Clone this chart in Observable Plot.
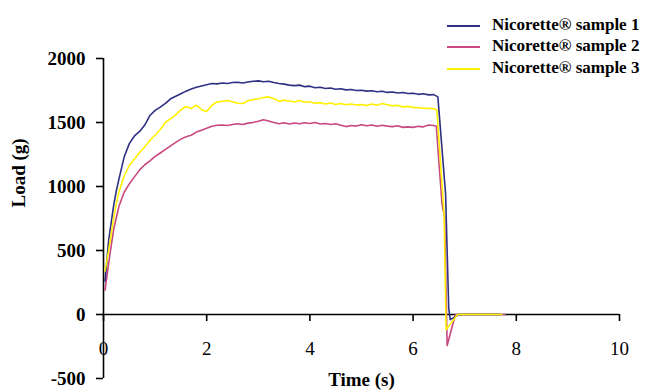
<!DOCTYPE html>
<html>
<head>
<meta charset="utf-8">
<script src="https://cdn.jsdelivr.net/npm/d3@7"></script>
<script src="https://cdn.jsdelivr.net/npm/@observablehq/plot@0.6"></script>
<style>
  html, body { margin: 0; padding: 0; background: #fff; }
  #wrap { position: relative; width: 653px; height: 391px; font-family: "Liberation Serif", "Times New Roman", serif; }
  #legend { position: absolute; left: 447px; top: 13.5px; font-size: 17px; font-weight: bold; line-height: 21.5px; color: #000; white-space: nowrap; }
  #legend .sw { display: inline-block; width: 33px; height: 2px; vertical-align: middle; margin-right: 12px; }
</style>
</head>
<body>
<div id="wrap"><div id="legend"></div></div>
<script>
const seriesNames = ["Nicorette® sample 1", "Nicorette® sample 2", "Nicorette® sample 3"];
const seriesColors = ["#2f3083", "#c8487f", "#fff000"];

const time = [0.03,0.1,0.15,0.2,0.25,0.3,0.4,0.5,0.6,0.7,0.8,0.9,
  1.0,1.1,1.2,1.3,1.4,1.5,1.6,1.7,1.8,1.9,
  2.0,2.1,2.2,2.3,2.4,2.5,2.6,2.7,2.8,2.9,
  3.0,3.1,3.2,3.3,3.4,3.5,3.6,3.7,3.8,3.9,
  4.0,4.1,4.2,4.3,4.4,4.5,4.6,4.7,4.8,4.9,
  5.0,5.1,5.2,5.3,5.4,5.5,5.6,5.7,5.8,5.9,
  6.0,6.1,6.2,6.3,6.4];

const sample1 = [260,580,720,860,970,1060,1230,1335,1395,1430,1480,1555,
  1595,1620,1650,1685,1705,1725,1745,1762,1775,1785,
  1795,1805,1802,1808,1805,1812,1815,1808,1816,1822,
  1825,1818,1822,1812,1805,1800,1792,1788,1792,1780,
  1784,1772,1775,1765,1770,1760,1764,1755,1758,1750,
  1752,1745,1748,1740,1744,1735,1738,1730,1734,1726,
  1728,1720,1724,1716,1718];

const sample2 = [190,400,540,670,760,845,955,1020,1075,1130,1170,1200,
  1235,1262,1290,1318,1345,1370,1388,1400,1425,1440,
  1455,1470,1478,1480,1476,1485,1490,1484,1495,1500,
  1510,1522,1512,1500,1490,1498,1488,1496,1490,1498,
  1492,1500,1488,1492,1485,1490,1478,1468,1476,1472,
  1482,1474,1480,1470,1478,1472,1468,1474,1462,1466,
  1462,1470,1466,1480,1476];

const sample3 = [340,500,630,760,870,960,1080,1165,1215,1265,1310,1360,
  1400,1445,1500,1530,1560,1600,1625,1610,1635,1600,
  1585,1635,1660,1665,1672,1662,1650,1648,1670,1680,
  1685,1695,1700,1688,1665,1675,1668,1660,1672,1658,
  1662,1650,1655,1645,1652,1640,1648,1638,1645,1636,
  1640,1632,1645,1635,1648,1638,1630,1634,1622,1626,
  1618,1615,1612,1610,1607];

const tail1Time = [6.48, 6.63, 6.69, 6.72, 6.89, 7.7];
const tail1Load = [1700, 940, 50, -40, 0, 0];
const tail2Time = [6.45, 6.56, 6.61, 6.66, 6.82, 7.78];
const tail2Load = [1470, 865, 760, -242, 0, 0];
const tail3Time = [6.46, 6.6, 6.64, 6.86, 7.72];
const tail3Load = [1600, 790, -120, 0, 0];

const xTicks = [0, 2, 4, 6, 8, 10];
const yTicks = [-500, 0, 500, 1000, 1500, 2000];
const xDomain = [0, 10];
const yDomain = [-500, 2000];

function rows(main, tT, tL) {
  return time.map((t, i) => ({t, v: main[i]})).concat(tT.map((t, i) => ({t, v: tL[i]})));
}
const d1 = rows(sample1, tail1Time, tail1Load);
const d2 = rows(sample2, tail2Time, tail2Load);
const d3r = rows(sample3, tail3Time, tail3Load);

const W = 653, H = 391;
const mL = 103, mR = 34, mT = 58, mB = 13;
const yPix = d3.scaleLinear().domain(yDomain).range([H - mB, mT]);
const xAxisDy = yPix(0) - (H - mB);

const plot = Plot.plot({
  width: W, height: H,
  marginLeft: mL, marginRight: mR, marginTop: mT, marginBottom: mB,
  style: {fontFamily: '"Liberation Serif", "Times New Roman", serif', background: "#fff", color: "#000", overflow: "visible"},
  x: {domain: xDomain},
  y: {domain: yDomain},
  marks: [
    Plot.ruleX([0], {stroke: "#000", strokeWidth: 1.6}),
    Plot.ruleY([0], {stroke: "#000", strokeWidth: 1.6}),
    Plot.axisY({ticks: yTicks, tickSize: 7, tickPadding: 11, tickFormat: d => `${d}`, fontSize: 19, fontWeight: "bold", label: null, strokeWidth: 1.6}),
    Plot.axisX({ticks: xTicks, tickSize: 7, tickPadding: 20, dy: xAxisDy, tickFormat: d => `${d}`, fontSize: 19, label: null, strokeWidth: 1.6}),
    Plot.line(d2, {x: "t", y: "v", stroke: seriesColors[1], strokeWidth: 1.6}),
    Plot.line(d1, {x: "t", y: "v", stroke: seriesColors[0], strokeWidth: 1.6}),
    Plot.line(d3r, {x: "t", y: "v", stroke: seriesColors[2], strokeWidth: 1.6}),
    Plot.text(["Time (s)"], {frameAnchor: "bottom", dy: 7, lineAnchor: "bottom", fontSize: 19, fontWeight: "bold"}),
    Plot.text(["Load (g)"], {frameAnchor: "left", rotate: -90, dx: -85, dy: -11, lineAnchor: "middle", fontSize: 19, fontWeight: "bold"})
  ]
});
const wrap = document.getElementById("wrap");
wrap.insertBefore(plot, wrap.firstChild);

const legend = document.getElementById("legend");
seriesNames.forEach((name, i) => {
  const row = document.createElement("div");
  const sw = document.createElement("span");
  sw.className = "sw";
  sw.style.background = seriesColors[i];
  row.appendChild(sw);
  row.appendChild(document.createTextNode(name));
  legend.appendChild(row);
});
</script>
</body>
</html>
